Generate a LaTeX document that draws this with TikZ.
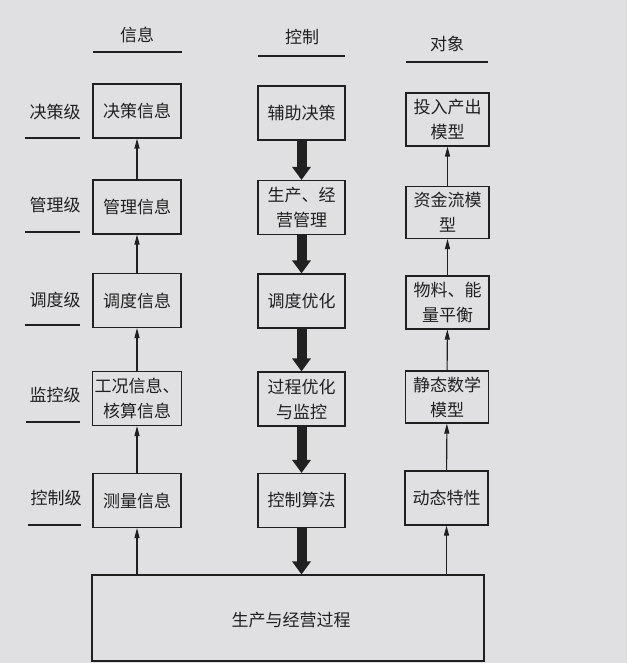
\documentclass[tikz,border=0pt]{standalone}
\usepackage{fontspec}
\setmainfont{Noto Sans CJK SC}
\usetikzlibrary{arrows.meta}
\definecolor{paperGray}{RGB}{224, 224, 226}
\definecolor{inkGray}{RGB}{32, 32, 32}

\tikzset{
    box/.style={draw=inkGray, line width=1.1pt, minimum width=88pt, minimum height=54pt, align=center, inner sep=2pt},
    thinArrow/.style={draw=inkGray, line width=1.1pt, -{Triangle[length=10pt, width=5pt]}},
    fatArrow/.style={draw=inkGray, line width=10pt, -{Triangle[length=13pt, width=18pt]}},
    rule/.style={draw=inkGray, line width=1.1pt},
}

\begin{document}
\begin{tikzpicture}[x=1pt, y=-1pt, font=\fontsize{17}{25}\selectfont, text=inkGray]
    \fill[paperGray] (0,0) rectangle (627,663);

    \node (hInfo) at (137,35) {信息};
    \draw[rule] (93,52) -- (182,52);
    \node (hCtrl) at (302,37) {控制};
    \draw[rule] (258,56) -- (345,56);
    \node (hObj) at (447,44) {对象};
    \draw[rule] (406,62) -- (488,62);

    \node (lvl1) at (55,112) {决策级};
    \draw[rule] (25,138) -- (80,138);
    \node (lvl2) at (55,205) {管理级};
    \draw[rule] (25,232) -- (80,232);
    \node (lvl3) at (55,300) {调度级};
    \draw[rule] (25,325) -- (80,325);
    \node (lvl4) at (55,395) {监控级};
    \draw[rule] (26,422) -- (80,422);
    \node (lvl5) at (56,498) {控制级};
    \draw[rule] (28,525) -- (81,525);

    \node[box] (info1) at (137,111) {决策信息};
    \node[box] (info2) at (137,207) {管理信息};
    \node[box] (info3) at (137,300.5) {调度信息};
    \node[box] (info4) at (137,398.5) {工况信息、\\核算信息};
    \node[box] (info5) at (137,500.5) {测量信息};

    \node[box, minimum width=87pt] (ctrl1) at (301.5,113) {辅助决策};
    \node[box, minimum width=87pt] (ctrl2) at (301.5,207.5) {生产、经\\营管理};
    \node[box, minimum width=87pt] (ctrl3) at (301.5,301) {调度优化};
    \node[box, minimum width=87pt] (ctrl4) at (301.5,399) {过程优化\\与监控};
    \node[box, minimum width=87pt] (ctrl5) at (301.5,500.5) {控制算法};

    \node[box, minimum width=83pt, minimum height=53pt] (obj1) at (447.5,119.5) {投入产出\\模型};
    \node[box, minimum width=83pt, minimum height=52pt] (obj2) at (447.5,212.5) {资金流模\\型};
    \node[box, minimum width=83pt, minimum height=53pt] (obj3) at (447.5,302.5) {物料、能\\量平衡};
    \node[box, minimum width=83pt, minimum height=52pt] (obj4) at (447,397) {静态数学\\模型};
    \node[box, minimum width=83pt] (obj5) at (446.5,498) {动态特性};

    \node[box, minimum width=392pt, minimum height=86pt] (proc) at (288,618) {};
    \node (procText) at (291,620) {生产与经营过程};

    \draw[thinArrow] (info2) -- (info1);
    \draw[thinArrow] (info3) -- (info2);
    \draw[thinArrow] (info4) -- (info3);
    \draw[thinArrow] (info5) -- (info4);
    \draw[thinArrow] (proc.north -| info5) -- (info5);

    \draw[fatArrow] (ctrl1) -- (ctrl2);
    \draw[fatArrow] (ctrl2) -- (ctrl3);
    \draw[fatArrow] (ctrl3) -- (ctrl4);
    \draw[fatArrow] (ctrl4) -- (ctrl5);
    \draw[fatArrow] (ctrl5) -- (proc.north -| ctrl5);

    \draw[thinArrow] (obj2) -- (obj1);
    \draw[thinArrow] (obj3) -- (obj2);
    \draw[thinArrow] (obj4) -- (obj3);
    \draw[thinArrow] (obj5) -- (obj4);
    \draw[thinArrow] (proc.north -| obj5) -- (obj5);
\end{tikzpicture}
\end{document}
